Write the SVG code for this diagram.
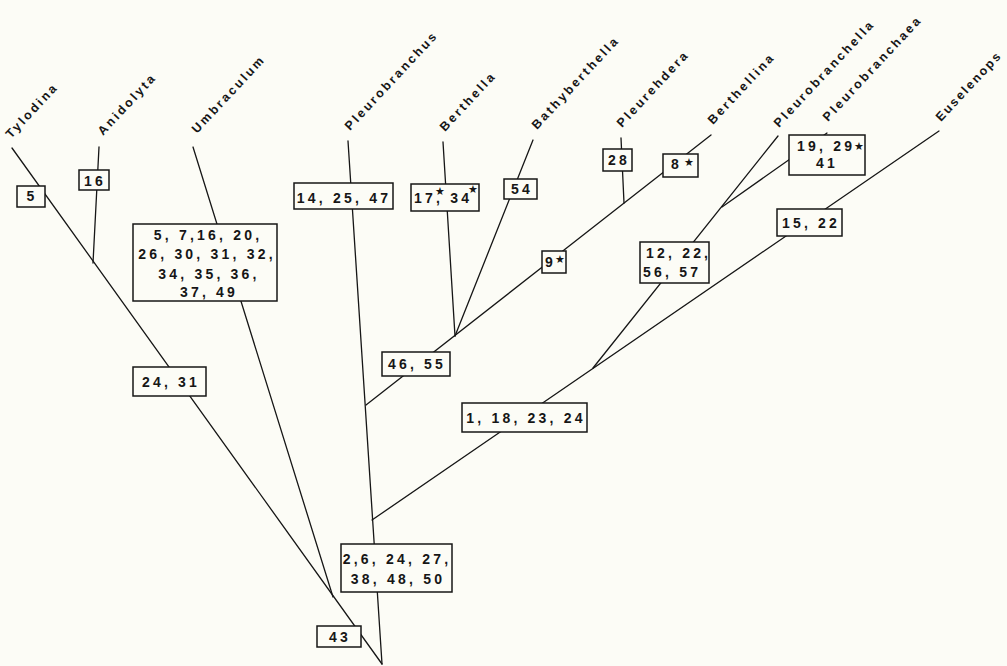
<svg xmlns="http://www.w3.org/2000/svg" width="1007" height="666" viewBox="0 0 1007 666">
<style>
.bg{fill:#fcfcf6}
.ln{stroke:#161616;stroke-width:1.3;fill:none;stroke-linecap:round}
.bx{fill:#fcfcf6;stroke:#161616;stroke-width:1.5}
.t{font-family:"Liberation Sans",Arial,sans-serif;font-weight:bold;font-size:14px;letter-spacing:3.2px;fill:#161616}
.c{text-anchor:middle}
.lb{font-family:"Liberation Sans",Arial,sans-serif;font-weight:bold;font-size:12.5px;letter-spacing:2.5px;fill:#161616}
.st{font-family:"DejaVu Sans",sans-serif;font-size:11px;letter-spacing:0;fill:#161616}
</style>
<rect class="bg" x="0" y="0" width="1007" height="666"/>
<g id="connectors">
<line class="ln" x1="12" y1="148" x2="382" y2="664"/>
<line class="ln" x1="99" y1="147" x2="93" y2="263"/>
<line class="ln" x1="193" y1="147" x2="333" y2="597"/>
<line class="ln" x1="348" y1="141" x2="382" y2="664"/>
<line class="ln" x1="366" y1="405" x2="711" y2="135"/>
<line class="ln" x1="443" y1="142" x2="455" y2="336"/>
<line class="ln" x1="533" y1="140" x2="455" y2="336"/>
<line class="ln" x1="621" y1="138" x2="624" y2="203"/>
<line class="ln" x1="372" y1="520" x2="939" y2="131"/>
<line class="ln" x1="778" y1="136" x2="593" y2="368"/>
<line class="ln" x1="722" y1="207" x2="827" y2="133"/>
</g>
<g id="labels">
<text class="lb" transform="translate(11,139) rotate(-47)">Tylodina</text>
<text class="lb" transform="translate(103,136) rotate(-47)">Anidolyta</text>
<text class="lb" transform="translate(197,134) rotate(-47)">Umbraculum</text>
<text class="lb" transform="translate(350,131) rotate(-47)">Pleurobranchus</text>
<text class="lb" transform="translate(445,132) rotate(-47)">Berthella</text>
<text class="lb" transform="translate(537,130) rotate(-47)">Bathyberthella</text>
<text class="lb" transform="translate(622,128) rotate(-47)">Pleurehdera</text>
<text class="lb" transform="translate(713,125) rotate(-47)">Berthellina</text>
<text class="lb" transform="translate(779,128) rotate(-47)">Pleurobranchella</text>
<text class="lb" transform="translate(828,122) rotate(-47)">Pleurobranchaea</text>
<text class="lb" transform="translate(941,122) rotate(-47)" style="letter-spacing:2px">Euselenops</text>
</g>
<g id="n5"><rect class="bx" x="17" y="186" width="28" height="21"/><text class="t c" x="32" y="201">5</text></g>
<g id="n16"><rect class="bx" x="79" y="170" width="30" height="20"/><text class="t c" x="95" y="186">16</text></g>
<g id="n5-49"><rect class="bx" x="133" y="224" width="144" height="77"/>
<text class="t c" x="208" y="240">5, 7,16, 20,</text>
<text class="t c" x="207" y="259">26, 30, 31, 32,</text>
<text class="t c" x="209" y="279">34, 35, 36,</text>
<text class="t c" x="209" y="297">37, 49</text></g>
<g id="n24-31"><rect class="bx" x="133" y="367" width="73" height="29"/><text class="t c" x="171" y="387">24, 31</text></g>
<g id="n14-47"><rect class="bx" x="294" y="183" width="99" height="26"/><text class="t c" x="344" y="203">14, 25, 47</text></g>
<g id="n17-34"><rect class="bx" x="411" y="184" width="68" height="27"/><text class="t" x="414" y="203">17, 34<tspan class="st" x="435" y="195">★</tspan><tspan class="st" x="468" y="193">★</tspan></text></g>
<g id="n54"><rect class="bx" x="504" y="179" width="33" height="20"/><text class="t c" x="522" y="194">54</text></g>
<g id="n28"><rect class="bx" x="603" y="149" width="29" height="22"/><text class="t c" x="619" y="165">28</text></g>
<g id="n9"><rect class="bx" x="542" y="251" width="24" height="22"/><text class="t" x="545" y="267">9<tspan class="st" x="555" y="263">★</tspan></text></g>
<g id="n8"><rect class="bx" x="663" y="154" width="35" height="23"/><text class="t" x="671" y="169">8<tspan class="st" x="684" y="166">★</tspan></text></g>
<g id="n46-55"><rect class="bx" x="382" y="352" width="68" height="24"/><text class="t c" x="417" y="369">46, 55</text></g>
<g id="n12-57"><rect class="bx" x="640" y="242" width="69" height="41"/><text class="t" x="646" y="258">12, 22,</text><text class="t" x="643" y="277">56, 57</text></g>
<g id="n19-41"><rect class="bx" x="789" y="135" width="76" height="40"/><text class="t" x="797" y="151">19, 29<tspan class="st" x="854" y="150">★</tspan></text><text class="t c" x="827" y="168">41</text></g>
<g id="n15-22"><rect class="bx" x="777" y="209" width="65" height="27"/><text class="t c" x="811" y="228">15, 22</text></g>
<g id="n1-24"><rect class="bx" x="462" y="403" width="125" height="29"/><text class="t c" x="526" y="423">1, 18, 23, 24</text></g>
<g id="n2-50"><rect class="bx" x="341" y="544" width="111" height="48"/><text class="t c" x="397" y="564">2,6, 24, 27,</text><text class="t c" x="398" y="584">38, 48, 50</text></g>
<g id="n43"><rect class="bx" x="317" y="626" width="44" height="21"/><text class="t c" x="340" y="642">43</text></g>
</svg>
